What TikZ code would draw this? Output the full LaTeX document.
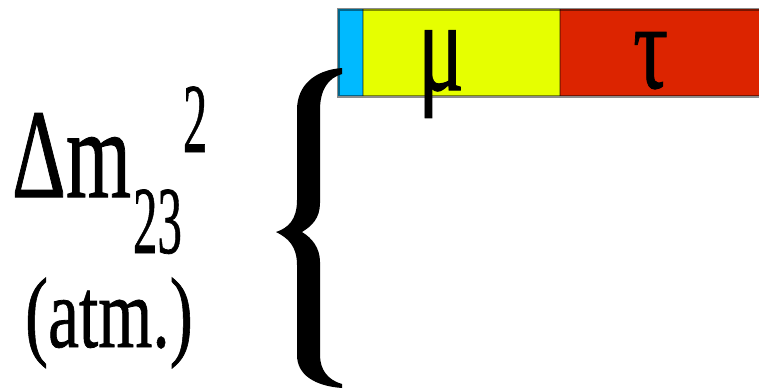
\documentclass[tikz,border=0pt]{standalone}
\usepackage{fontspec}
\setmainfont{Liberation Serif}
\newfontfamily\heavyserif[FakeBold=0.8]{Liberation Serif}
\definecolor{nublue}{RGB}{0,186,255}
\definecolor{nuyellow}{RGB}{230,255,0}
\definecolor{nured}{RGB}{220,36,0}
\tikzset{
  lbl/.style={inner sep=0pt, outer sep=0pt, anchor=base west, text=black},
}
\begin{document}
\begin{tikzpicture}[x=1pt,y=-1pt]
\useasboundingbox (0,0) rectangle (759,388);
% bar segments
\fill[nublue] (338,9) rectangle (363,96);
\fill[nuyellow] (363,9) rectangle (560,96);
\fill[nured] (560,9) rectangle (762,96);
\draw[black, draw opacity=0.45, line width=3pt] (338,9) rectangle (765,96);
\draw[black, draw opacity=0.3, line width=2pt] (363,9) -- (363,96);
\draw[black, draw opacity=0.3, line width=2pt] (560,9) -- (560,96);
% labels in bar
\node[lbl] (mu) at (418,90) {\scalebox{0.66}[1]{\heavyserif\fontsize{130}{130}\selectfont μ}};
\node[lbl] (tau) at (633,88) {\scalebox{0.72}[1]{\heavyserif\fontsize{122}{122}\selectfont τ}};
% brace
\fill[black] (342,68)
  .. controls (315,70) and (297,85) .. (297,110)
  -- (297,200)
  .. controls (297,220) and (288,228) .. (276,232)
  .. controls (288,238) and (297,246) .. (297,265)
  -- (297,355)
  .. controls (297,375) and (315,386) .. (342,388)
  -- (342,384)
  .. controls (328,380) and (320,370) .. (320,355)
  -- (320,262)
  .. controls (320,248) and (312,238) .. (302,232)
  .. controls (312,226) and (320,218) .. (320,203)
  -- (320,110)
  .. controls (320,90) and (328,78) .. (342,74)
  -- cycle;
% left labels
\node[lbl] (dm) at (12,197) {\scalebox{0.66}[1]{\heavyserif\fontsize{127}{127}\selectfont Δm}};
\node[lbl] (sub) at (133,253) {\scalebox{0.51}[1]{\heavyserif\fontsize{96}{96}\selectfont 23}};
\node[lbl] (sup) at (183,152) {\scalebox{0.49}[1]{\heavyserif\fontsize{99}{99}\selectfont 2}};
\node[lbl] (atm) at (25,347) {\scalebox{0.695}[1]{\heavyserif\fontsize{100}{100}\selectfont (atm.)}};
\end{tikzpicture}
\end{document}
